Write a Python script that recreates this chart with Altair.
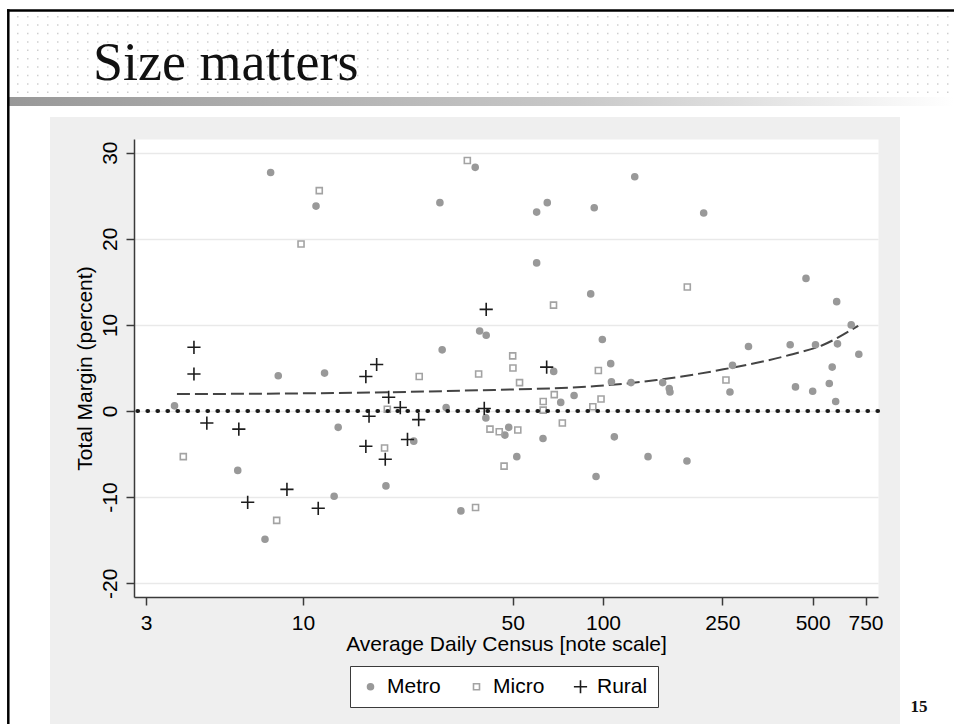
import altair as alt
import pandas as pd

# ---------------- data ----------------
metro_x = [3.73, 6.06, 7.47, 7.80, 8.27, 11.05, 11.8, 12.7, 13.1, 18.9, 23.4, 28.6, 29.1, 30.0,
           33.6, 37.5, 38.8, 40.8, 40.7, 47.1, 48.5, 51.6, 60.1, 60.1, 63.1, 65.2, 68.5, 72.3,
           80.1, 91.0, 93.5, 94.8, 99.5, 106.1, 106.7, 109.1, 124.0, 127.6, 141.3, 158.1, 166.3,
           167.2, 190.5, 216.6, 265.0, 270.2, 305.5, 420.7, 438.2, 475.0, 500.0, 510.9, 568.0,
           580.8, 596.6, 601.2, 604.9, 672.1, 712.5]
metro_y = [0.6, -6.9, -14.9, 27.7, 4.1, 23.8, 4.4, -9.9, -1.9, -8.7, -3.5, 24.2, 7.1, 0.4,
           -11.6, 28.3, 9.3, 8.8, -0.8, -2.8, -1.9, -5.3, 23.1, 17.2, -3.2, 24.2, 4.6, 1.0,
           1.8, 13.6, 23.6, -7.6, 8.3, 5.5, 3.4, -3.0, 3.3, 27.2, -5.3, 3.3, 2.6,
           2.2, -5.8, 23.0, 2.2, 5.3, 7.5, 7.7, 2.8, 15.4, 2.3, 7.7, 3.2,
           5.1, 1.1, 12.7, 7.8, 10.0, 6.6]

micro_x = [3.99, 8.17, 9.85, 11.33, 18.7, 19.1, 24.4, 35.3, 37.6, 38.5, 42.0, 45.1, 46.8, 50.0,
           50.1, 52.0, 52.7, 63.2, 63.2, 68.4, 68.8, 73.2, 92.5, 96.5, 98.5, 191.0, 257.0]
micro_y = [-5.3, -12.7, 19.4, 25.6, -4.3, 0.2, 4.0, 29.1, -11.2, 4.3, -2.1, -2.4, -6.4, 6.4,
           5.0, -2.2, 3.3, 1.1, 0.1, 12.3, 1.9, -1.4, 0.5, 4.7, 1.4, 14.4, 3.6]

rural_x = [4.33, 4.33, 4.78, 6.11, 6.54, 8.84, 11.24, 16.2, 17.6, 16.2, 16.6, 18.8, 19.3, 21.1,
           22.3, 24.3, 40.2, 40.8, 64.9]
rural_y = [7.4, 4.3, -1.4, -2.1, -10.6, -9.1, -11.3, 4.0, 5.4, -4.1, -0.6, -5.6, 1.6, 0.4,
           -3.3, -1.0, 0.3, 11.8, 5.1]

fit_x = [3.8, 10, 34, 95, 151, 252, 418, 541, 709]
fit_y = [1.97, 2.05, 2.36, 2.9, 3.6, 4.84, 6.5, 7.67, 9.9]

groups = ["Metro", "Micro", "Rural"]
x_ticks = [3, 10, 50, 100, 250, 500, 750]
y_ticks = [-20, -10, 0, 10, 20, 30]
x_domain = [2.733, 825.5]
y_domain = [-21.6, 31.59]

title_text = "Size matters"
x_title = "Average Daily Census [note scale]"
y_title = "Total Margin (percent)"
page_no = "15"

# ---------------- tables ----------------
points = pd.concat([
    pd.DataFrame({"x": metro_x, "y": metro_y, "type": "Metro"}),
    pd.DataFrame({"x": micro_x, "y": micro_y, "type": "Micro"}),
    pd.DataFrame({"x": rural_x, "y": rural_y, "type": "Rural"}),
], ignore_index=True)
fit = pd.DataFrame({"x": fit_x, "y": fit_y})
zero = pd.DataFrame({"y": [0]})

# ---------------- layout ----------------
OX, OY = 134, 139          # plot origin on the page
W, H = 744, 458            # plot area
PAGE_W, PAGE_H = 954, 724
FONT = "Liberation Sans"
SERIF = "Liberation Serif"


def vx(p):
    return alt.value(p - OX)


def vy(p):
    return alt.value(p - OY)


one = pd.DataFrame({"k": [0]})


def rect(x0, y0, x1, y1, **kw):
    return alt.Chart(one).mark_rect(**kw).encode(x=vx(x0), x2=vx(x1), y=vy(y0), y2=vy(y1))


def hline(x0, x1, y, **kw):
    return alt.Chart(one).mark_rule(**kw).encode(x=vx(x0), x2=vx(x1), y=vy(y))


def vline(x, y0, y1, **kw):
    return alt.Chart(one).mark_rule(**kw).encode(x=vx(x), y=vy(y0), y2=vy(y1))


decor = []
# white slide areas around the grey graph region
decor.append(rect(0, 0, PAGE_W, 117, color="white"))
decor.append(rect(0, 117, 50, PAGE_H, color="white"))
decor.append(rect(900, 117, PAGE_W, PAGE_H, color="white"))
# dotted background pattern of the title area
for i in range(10):
    yy = 16.7 + 8.4 * i
    decor.append(hline(17, PAGE_W, yy, color="#cfcfcf", strokeWidth=1.5, strokeDash=[1.5, 8.5]))
# grey gradient bar
decor.append(rect(9, 97, PAGE_W, 106, fill=alt.Gradient(
    gradient="linear",
    stops=[alt.GradientStop(color="#989898", offset=0),
           alt.GradientStop(color="#c8c8c8", offset=0.6),
           alt.GradientStop(color="#ffffff", offset=1)],
    x1=0, x2=1, y1=0, y2=0)))
# black border
decor.append(hline(7, PAGE_W, 10.5, color="black", strokeWidth=2.5))
decor.append(vline(8.3, 9.3, PAGE_H, color="black", strokeWidth=2.5))
# slide title and page number
decor.append(alt.Chart(one).mark_text(text=title_text, font=SERIF, fontSize=54, align="left",
                                      baseline="alphabetic", color="#111111")
             .encode(x=vx(93), y=vy(80)))
decor.append(alt.Chart(one).mark_text(text=page_no, font=SERIF, fontSize=17, fontWeight="bold",
                                      align="center", baseline="alphabetic", color="#111111")
             .encode(x=vx(919), y=vy(712)))

# ---------------- encodings ----------------
X = alt.X("x:Q", scale=alt.Scale(type="log", domain=x_domain, nice=False),
          axis=alt.Axis(values=x_ticks, title=x_title, format="d", grid=False,
                        labelFlush=False, labelOverlap=False, labelPadding=7, titlePadding=0))
Y = alt.Y("y:Q", scale=alt.Scale(domain=y_domain, nice=False, zero=False),
          axis=alt.Axis(values=y_ticks, title=y_title, grid=True, gridColor="#e9e9e9",
                        gridWidth=1.6, labelAngle=270, labelAlign="center",
                        labelBaseline="bottom", labelPadding=6, labelOverlap=False,
                        labelExpr="'' + datum.value", titlePadding=4))

plus_path = "M-2.2,0L2.2,0M0,-2.2L0,2.2"
leg = alt.Legend(title=None, orient="none", legendX=216, legendY=527, direction="horizontal",
                 fillColor="white", strokeColor="#3a3a3a", padding=10,
                 labelFont=FONT, labelFontSize=21, labelColor="black", labelLimit=0,
                 symbolSize=36, symbolStrokeWidth=1.6, labelOffset=6, columnPadding=25)

pts = alt.Chart(points).mark_point(size=36, strokeWidth=1.6, opacity=1).encode(
    x=X, y=Y,
    shape=alt.Shape("type:N", scale=alt.Scale(domain=groups, range=["circle", "square", plus_path]),
                    legend=leg),
    fill=alt.Fill("type:N", scale=alt.Scale(domain=groups,
                                            range=["#999999", "transparent", "transparent"]),
                  legend=leg),
    stroke=alt.Stroke("type:N", scale=alt.Scale(domain=groups,
                                                range=["#999999", "#a3a3a3", "#1c1c1c"]),
                      legend=leg),
)

fit_line = alt.Chart(fit).mark_line(color="#444444", strokeWidth=2, strokeDash=[13, 5],
                                    interpolate="monotone").encode(x=X, y=Y)

zero_line = alt.Chart(zero).mark_rule(color="#1a1a1a", strokeWidth=4.2, strokeDash=[0.5, 9.5],
                                      strokeCap="round").encode(y=Y)

chart = alt.layer(*decor, fit_line, pts, zero_line).properties(
    width=W, height=H,
    padding={"left": OX, "top": OY, "right": PAGE_W - OX - W, "bottom": PAGE_H - OY - H},
    autosize=alt.AutoSizeParams(type="none"),
    background="#efefef",
).configure_view(fill="white", stroke="transparent").configure_axis(
    labelFont=FONT, labelFontSize=21, labelColor="black",
    titleFont=FONT, titleFontSize=21, titleFontWeight="normal", titleColor="black",
    domainColor="#3a3a3a", domainWidth=1.5, tickColor="#3a3a3a", tickWidth=1.5, tickSize=8,
)

chart.save("out.html", embed_options={"renderer": "svg", "actions": False})
